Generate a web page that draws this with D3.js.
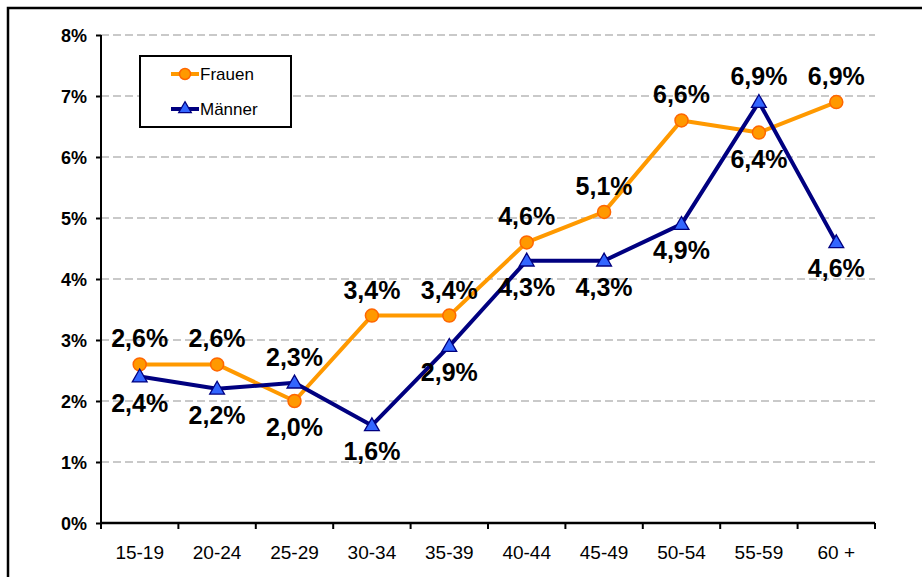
<!DOCTYPE html>
<html><head><meta charset="utf-8">
<script src="https://cdn.jsdelivr.net/npm/d3@7"></script>
<style>body{margin:0;background:#fff}svg{display:block}</style>
</head><body>
<svg id="c" width="922" height="577"></svg>
<script>
const categories = ["15-19","20-24","25-29","30-34","35-39","40-44","45-49","50-54","55-59","60 +"];
const frauen = [2.6,2.6,2.0,3.4,3.4,4.6,5.1,6.6,6.4,6.9];
const maenner = [2.4,2.2,2.3,1.6,2.9,4.3,4.3,4.9,6.9,4.6];
const yTicks = [0,1,2,3,4,5,6,7,8];
const seriesNames = ["Frauen","Männer"];
// label placement (style): a = above, b = below
const frauenPos = ["a","a","b","a","a","a","a","a","b","a"];
const maennerPos = ["b","b","a","b","b","b","b","b","a","b"];

const svg = d3.select("#c");
const L=101, R=875, T=35, B=523;
svg.append("rect").attr("x",8).attr("y",8).attr("width",940).attr("height",600)
  .attr("fill","#fff").attr("stroke","#000").attr("stroke-width",2.5);

const x = d3.scaleBand().domain(categories).range([L,R]).padding(0);
const y = d3.scaleLinear().domain([0,8]).range([B,T]);
const fmt = v => String(v.toFixed(1)).replace(".",",")+"%";

// grid
svg.append("g").selectAll("line").data(yTicks.filter(d=>d>0)).join("line")
  .attr("x1",L).attr("x2",R).attr("y1",d=>y(d)).attr("y2",d=>y(d))
  .attr("stroke","#b8b8b8").attr("stroke-width",1.3).attr("stroke-dasharray","8,4");

// axes
const yAxis = d3.axisLeft(y).tickValues(yTicks).tickSize(5).tickFormat(d=>d+"%");
const gy = svg.append("g").attr("transform",`translate(${L},0)`).call(yAxis);
gy.select(".domain").attr("stroke","#000").attr("stroke-width",2).attr("d",`M0,${T}V${B}`);
gy.selectAll(".tick line").attr("stroke","#000").attr("stroke-width",2);
gy.selectAll(".tick text").attr("font-family","Liberation Sans, Arial, sans-serif")
  .attr("font-weight","bold").attr("font-size",18).attr("fill","#000").attr("x",-14).attr("dy","0.35em");

const xAxis = d3.axisBottom(x).tickSize(0).tickFormat(d=>d);
const gx = svg.append("g").attr("transform",`translate(0,${B})`).call(xAxis);
gx.select(".domain").attr("stroke","#000").attr("stroke-width",2.5).attr("d",`M${L},0H${R}`);
gx.selectAll(".tick text").attr("font-family","Liberation Sans, Arial, sans-serif")
  .attr("font-size",19).attr("fill","#000").attr("y",36).attr("dy",0);
const bounds = categories.map(c=>x(c)).concat([R]);
gx.append("g").selectAll("line").data(bounds).join("line")
  .attr("x1",d=>d).attr("x2",d=>d).attr("y1",0).attr("y2",6)
  .attr("stroke","#000").attr("stroke-width",2);

const cx = c => x(c)+x.bandwidth()/2;
const line = d3.line().x((d,i)=>cx(categories[i])).y(d=>y(d));

svg.append("path").datum(frauen).attr("d",line).attr("fill","none")
  .attr("stroke","#FF9900").attr("stroke-width",4).attr("stroke-linejoin","round");
svg.append("path").datum(maenner).attr("d",line).attr("fill","none")
  .attr("stroke","#000080").attr("stroke-width",4).attr("stroke-linejoin","round");

const tri = d3.symbol().type(d3.symbolTriangle).size(95);
svg.append("g").selectAll("circle").data(frauen).join("circle")
  .attr("cx",(d,i)=>cx(categories[i])).attr("cy",d=>y(d)).attr("r",6.5)
  .attr("fill","#FF9900").attr("stroke","#FF6600").attr("stroke-width",1.5);
svg.append("g").selectAll("path").data(maenner).join("path")
  .attr("d",tri).attr("transform",(d,i)=>`translate(${cx(categories[i])},${y(d)+1})`)
  .attr("fill","#3366FF").attr("stroke","#000080").attr("stroke-width",1.3);

function labels(data,pos){
  svg.append("g").selectAll("text").data(data).join("text")
    .attr("x",(d,i)=>cx(categories[i]))
    .attr("y",(d,i)=>y(d)+(pos[i]==="a"?-17:35))
    .attr("text-anchor","middle").attr("font-family","Liberation Sans, Arial, sans-serif")
    .attr("font-weight","bold").attr("font-size",25).attr("fill","#000")
    .text(d=>fmt(d));
}
labels(frauen,frauenPos);
labels(maenner,maennerPos);

// legend
const lg = svg.append("g");
lg.append("rect").attr("x",140).attr("y",56).attr("width",151).attr("height",71)
  .attr("fill","#fff").attr("stroke","#000").attr("stroke-width",2);
const ly=[74,109];
lg.append("line").attr("x1",171).attr("x2",199).attr("y1",ly[0]).attr("y2",ly[0]).attr("stroke","#FF9900").attr("stroke-width",4);
lg.append("circle").attr("cx",185).attr("cy",ly[0]).attr("r",5.5).attr("fill","#FF9900").attr("stroke","#FF6600").attr("stroke-width",1.5);
lg.append("line").attr("x1",171).attr("x2",199).attr("y1",ly[1]).attr("y2",ly[1]).attr("stroke","#000080").attr("stroke-width",4);
lg.append("path").attr("d",d3.symbol().type(d3.symbolTriangle).size(70)).attr("transform",`translate(185,${ly[1]})`)
  .attr("fill","#3366FF").attr("stroke","#000080").attr("stroke-width",1.2);
lg.selectAll("text.l").data(seriesNames).join("text").attr("class","l")
  .attr("x",200).attr("y",(d,i)=>ly[i]+6).attr("font-family","Liberation Sans, Arial, sans-serif")
  .attr("font-size",17).attr("fill","#000").text(d=>d);
</script>
</body></html>
